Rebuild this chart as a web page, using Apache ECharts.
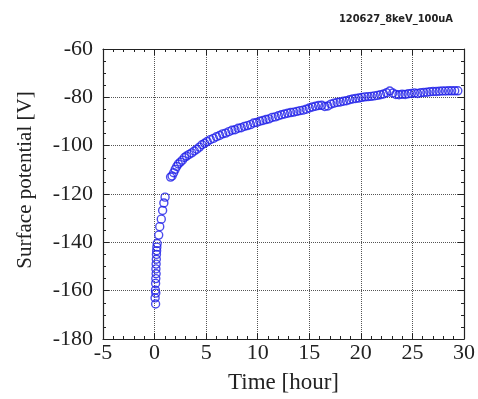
<!DOCTYPE html>
<html>
<head>
<meta charset="utf-8">
<script src="https://cdn.jsdelivr.net/npm/echarts@6/dist/echarts.min.js"></script>
<style>
  html, body { margin: 0; padding: 0; background: #fff; }
  #chart { width: 478px; height: 399px; }
</style>
</head>
<body>
<div id="chart"></div>
<script>
// measured time after irradiation stop, hours
const timeHours = [
  0.10, 0.05, 0.12, 0.08, 0.10, 0.12, 0.15, 0.13, 0.15, 0.17, 0.18, 0.20, 0.22, 0.25,
  0.40, 0.50, 0.65, 0.78, 0.90, 1.02,
  1.55, 1.70, 1.85, 2.00, 2.15, 2.30, 2.50, 2.70, 2.90, 3.10, 3.35, 3.60, 3.85, 4.10,
  4.35, 4.60, 4.85, 5.10, 5.40, 5.70, 6.00, 6.30, 6.60, 6.90, 7.20, 7.50, 7.80, 8.10,
  8.40, 8.70, 9.00, 9.30, 9.60, 9.90, 10.2, 10.5, 10.8, 11.1, 11.4, 11.7, 12.0, 12.3,
  12.6, 12.9, 13.2, 13.5, 13.8, 14.1, 14.4, 14.7, 15.0, 15.3, 15.6, 15.9, 16.2, 16.5,
  16.8, 17.1, 17.4, 17.7, 18.0, 18.3, 18.6, 18.9, 19.2, 19.5, 19.8, 20.1, 20.4, 20.7,
  21.0, 21.3, 21.6, 21.9, 22.2, 22.5, 22.8, 23.1, 23.4, 23.7, 24.0, 24.3, 24.6, 24.9,
  25.2, 25.5, 25.8, 26.1, 26.4, 26.7, 27.0, 27.3, 27.6, 27.9, 28.2, 28.5, 28.8, 29.1, 29.4
];
// surface potential, V
const potential = [
  -165.5, -163.0, -161.0, -159.8, -157.0, -155.0, -153.0, -151.0, -149.0, -147.0, -145.0, -143.5, -142.0, -140.5,
  -137.0, -133.5, -130.4, -126.8, -123.7, -121.3,
  -113.0, -112.5, -111.2, -109.8, -108.6, -107.6, -106.8, -106.0, -104.9, -104.3, -103.6, -103.0, -102.2, -101.5,
  -100.6, -99.6, -99.0, -98.3, -97.5, -97.0, -96.3, -95.8, -95.1, -94.8, -94.2, -93.6, -93.4, -92.8,
  -92.6, -92.0, -91.7, -91.3, -90.6, -90.4, -89.9, -89.6, -89.2, -88.9, -88.3, -88.1, -87.6, -87.2,
  -86.9, -86.6, -86.3, -86.1, -85.8, -85.5, -85.3, -84.9, -84.4, -84.0, -83.7, -83.4, -83.3, -83.8,
  -83.6, -82.8, -82.4, -82.1, -81.9, -81.6, -81.4, -81.0, -80.7, -80.5, -80.3, -80.0, -79.8, -79.7,
  -79.6, -79.4, -79.2, -78.9, -78.6, -78.1, -77.4, -78.2, -78.8, -78.9, -78.7, -78.8, -78.5, -78.4,
  -78.2, -78.4, -78.1, -78.0, -77.9, -77.7, -77.6, -77.6, -77.5, -77.4, -77.4, -77.3, -77.3, -77.3, -77.3
];
const xRange = { min: -5, max: 30, interval: 5 };
const yRange = { min: -180, max: -60, interval: 20 };
const runLabel = '120627_8keV_100uA';

const serif = '"Liberation Serif", "Times New Roman", serif';
const lineCol = '#222';

const baseAxis = {
  axisLine: { show: true, onZero: false, lineStyle: { color: lineCol, width: 1.2 } },
  axisTick: { show: true, inside: true, length: 6, lineStyle: { color: lineCol } },
  minorTick: { show: true, length: 3, lineStyle: { color: lineCol } },
  splitLine: { show: false },
  axisLabel: { show: false }
};

const chart = echarts.init(document.getElementById('chart'));
chart.setOption({
  animation: false,
  backgroundColor: '#fff',
  title: {
    text: runLabel,
    right: 20,
    top: 9,
    textStyle: { fontFamily: '"Liberation Sans Narrow", "DejaVu Sans Condensed", sans-serif', fontSize: 11, fontWeight: 'bold', color: '#222' }
  },
  grid: { left: 103, right: 14, top: 49, bottom: 53 },
  xAxis: [
    {
      ...baseAxis,
      type: 'value', position: 'bottom', ...xRange,
      minorTick: { ...baseAxis.minorTick, splitNumber: 5 },
      splitLine: { show: true, lineStyle: { color: '#555', type: 'dotted', width: 1 } },
      axisLabel: { show: true, fontFamily: serif, fontSize: 22, color: '#222', margin: 3 },
      name: 'Time [hour]',
      nameLocation: 'middle',
      nameGap: 32,
      nameTextStyle: { fontFamily: serif, fontSize: 23, color: '#222' }
    },
    {
      ...baseAxis,
      type: 'value', position: 'top', ...xRange,
      minorTick: { ...baseAxis.minorTick, splitNumber: 5 }
    }
  ],
  yAxis: [
    {
      ...baseAxis,
      type: 'value', position: 'left', ...yRange,
      minorTick: { ...baseAxis.minorTick, splitNumber: 4 },
      splitLine: { show: true, lineStyle: { color: '#555', type: 'dotted', width: 1 } },
      axisLabel: { show: true, fontFamily: serif, fontSize: 22, color: '#222', margin: 10 },
      name: 'Surface potential [V]',
      nameLocation: 'middle',
      nameGap: 67,
      nameRotate: 90,
      nameTextStyle: { fontFamily: serif, fontSize: 21, color: '#222', padding: [0, 0, 0, 28] }
    },
    {
      ...baseAxis,
      type: 'value', position: 'right', ...yRange,
      minorTick: { ...baseAxis.minorTick, splitNumber: 4 }
    }
  ],
  series: [
    {
      type: 'scatter',
      xAxisIndex: 0,
      yAxisIndex: 0,
      symbol: 'circle',
      symbolSize: 8,
      itemStyle: { color: 'rgba(0,0,0,0)', borderColor: '#1f1fe8', borderWidth: 1.4 },
      data: timeHours.map((t, i) => [t, potential[i]])
    }
  ]
});
</script>
</body>
</html>
